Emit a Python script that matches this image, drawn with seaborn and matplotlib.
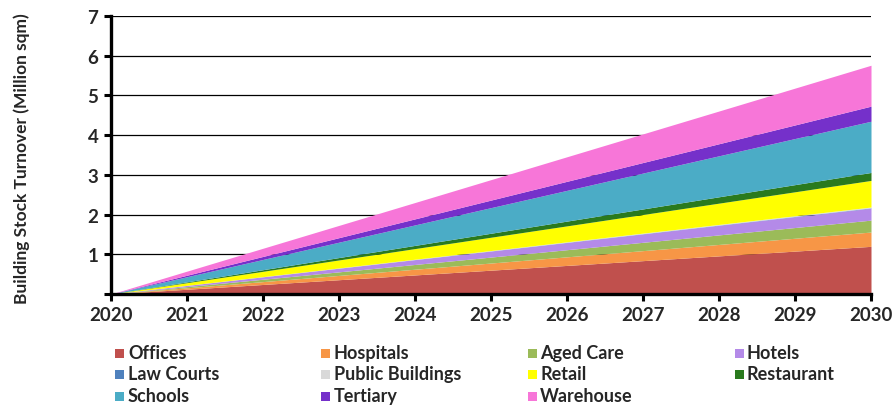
import matplotlib
matplotlib.use("Agg")
import matplotlib.pyplot as plt
from matplotlib.patches import Rectangle
import seaborn as sns
import pandas as pd

years = [2020, 2021, 2022, 2023, 2024, 2025, 2026, 2027, 2028, 2029, 2030]

offices = [0.00, 0.12, 0.24, 0.36, 0.48, 0.60, 0.72, 0.84, 0.96, 1.08, 1.20]
hospitals = [0.00, 0.036, 0.072, 0.108, 0.144, 0.18, 0.216, 0.252, 0.288, 0.324, 0.36]
aged_care = [0.00, 0.03, 0.06, 0.09, 0.12, 0.15, 0.18, 0.21, 0.24, 0.27, 0.30]
hotels = [0.00, 0.03, 0.06, 0.09, 0.12, 0.15, 0.18, 0.21, 0.24, 0.27, 0.30]
law_courts = [0.00, 0.001, 0.002, 0.003, 0.004, 0.005, 0.006, 0.007, 0.008, 0.009, 0.01]
public_buildings = [0.00, 0.002, 0.004, 0.006, 0.008, 0.01, 0.012, 0.014, 0.016, 0.018, 0.02]
retail = [0.00, 0.067, 0.134, 0.201, 0.268, 0.335, 0.402, 0.469, 0.536, 0.603, 0.67]
restaurant = [0.00, 0.02, 0.04, 0.06, 0.08, 0.10, 0.12, 0.14, 0.16, 0.18, 0.20]
schools = [0.00, 0.129, 0.258, 0.387, 0.516, 0.645, 0.774, 0.903, 1.032, 1.161, 1.29]
tertiary = [0.00, 0.038, 0.076, 0.114, 0.152, 0.19, 0.228, 0.266, 0.304, 0.342, 0.38]
warehouse = [0.00, 0.103, 0.206, 0.309, 0.412, 0.515, 0.618, 0.721, 0.824, 0.927, 1.03]

categories = ["Offices", "Hospitals", "Aged Care", "Hotels", "Law Courts",
              "Public Buildings", "Retail", "Restaurant", "Schools",
              "Tertiary", "Warehouse"]
series = [offices, hospitals, aged_care, hotels, law_courts, public_buildings,
          retail, restaurant, schools, tertiary, warehouse]
colors = ["#C0504D", "#F79646", "#9BBB59", "#B48AE8", "#4F81BD", "#D9D9D9",
          "#FFFF00", "#2A7A1E", "#4BACC6", "#7530CA", "#F776D8"]

df = pd.DataFrame(dict(zip(categories, series)), index=years)

sns.set_style("white")
plt.rcParams["font.family"] = ["Lato", "DejaVu Sans"]
plt.rcParams["font.weight"] = "bold"

W, H = 895, 410
fig = plt.figure(figsize=(W / 100, H / 100), dpi=100)
ax = fig.add_axes([111 / W, 1 - 295 / H, (871 - 111) / W, (295 - 17) / H])

ax.stackplot(df.index, [df[c].values for c in categories], colors=colors,
             linewidth=0)

ax.set_xlim(2020, 2030)
ax.set_ylim(0, 7)
ax.set_xticks(years)
ax.set_yticks(range(0, 8))
ax.set_yticklabels([""] + [str(v) for v in range(1, 8)])
ax.yaxis.grid(True, color="black", linewidth=0.9)
ax.set_axisbelow(True)
for s in ["top", "right"]:
    ax.spines[s].set_visible(False)
for s in ["left", "bottom"]:
    ax.spines[s].set_linewidth(2.4)
    ax.spines[s].set_color("black")
ax.tick_params(axis="both", which="major", direction="out", length=5, width=2.2,
               color="black", labelsize=13.5, pad=4, left=True, bottom=True)
for lbl in ax.get_xticklabels() + ax.get_yticklabels():
    lbl.set_fontweight("bold")
ax.set_ylabel("Building Stock Turnover (Million sqm)", fontsize=12.5,
              fontweight="bold")
ax.yaxis.set_label_coords(-0.106, 0.49)

# legend laid out in four columns, row by row
col_x = [120, 326, 532, 739]
row_y = [354, 375, 397]
for i, (name, col) in enumerate(zip(categories, colors)):
    cx = col_x[i % 4]
    cy = row_y[i // 4]
    fig.patches.append(Rectangle(((cx - 4.5) / W, 1 - (cy + 4.5) / H), 9 / W, 9 / H,
                                 transform=fig.transFigure, facecolor=col,
                                 edgecolor="none"))
    fig.text((cx + 8) / W, 1 - cy / H, name, fontsize=13, fontweight="bold",
             va="center", ha="left")

fig.savefig("out.png", dpi=100)
